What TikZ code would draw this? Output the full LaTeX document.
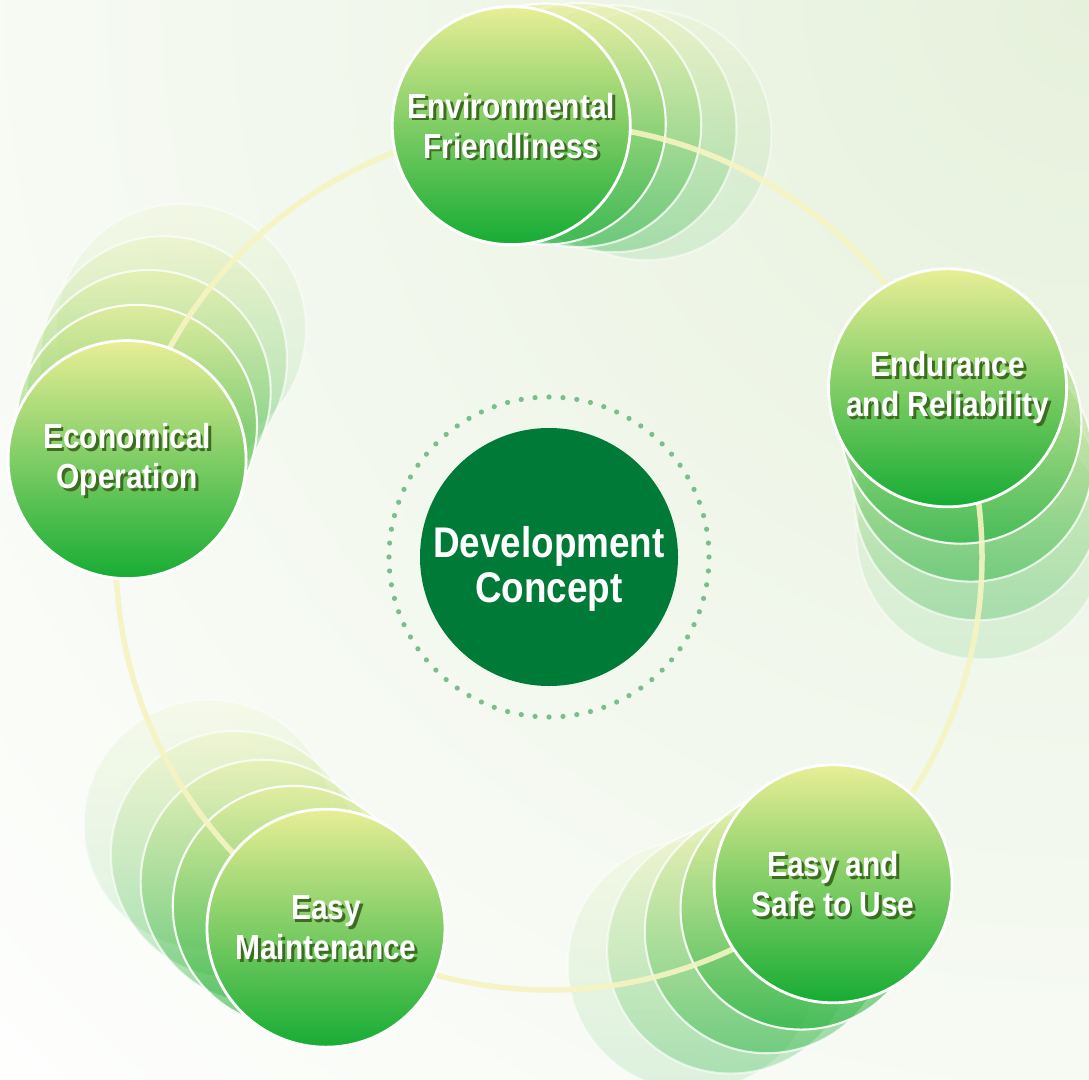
\documentclass[tikz,border=0pt]{standalone}
\usepackage{fontspec}
\newfontfamily\capfont{Liberation Sans}[FakeStretch=0.86]
\usetikzlibrary{positioning}

\definecolor{bgtop}{RGB}{230,241,220}
\definecolor{bubtop}{RGB}{232,238,150}
\definecolor{bubmid}{RGB}{140,204,88}
\definecolor{bubbot}{RGB}{22,172,52}
\definecolor{shadowgreen}{RGB}{62,108,34}
\definecolor{hubgreen}{RGB}{0,122,55}
\definecolor{dotgreen}{RGB}{122,190,140}
\definecolor{ringyellow}{RGB}{246,244,194}

\tikzset{
    bubble/.style={circle, minimum size=2.38cm, inner sep=0pt, draw=white, line width=0.8pt,
        top color=bubtop, middle color=bubmid, bottom color=bubbot},
    ghost/.style={bubble, line width=0.6pt},
    bubtext/.style={text=white, align=center, font=\capfont\bfseries\fontsize{9.9}{11.4}\selectfont},
    bubshadow/.style={bubtext, text=shadowgreen},
    hubcircle/.style={circle, minimum size=2.58cm, inner sep=0pt, fill=hubgreen},
    hubtext/.style={text=white, align=center, font=\capfont\bfseries\fontsize{12.2}{13}\selectfont},
}

\begin{document}
\begin{tikzpicture}
        \useasboundingbox (0,0) rectangle (10.89,10.79);

        % background
        \fill[white] (0,0) rectangle (10.89,10.79);
        \begin{scope}
            \clip (0,0) rectangle (10.89,10.79);
            \shade[inner color=bgtop, outer color=white] (10.89,10.79) circle [radius=16];
        \end{scope}

        \coordinate (hub) at (5.49,5.22);

        % dotted ring
        \foreach \a in {0,5,...,355} {
            \fill[dotgreen] ([shift={(\a:1.6)}]hub) circle [radius=0.026];
        }

        % concept
        \node[hubcircle] (hub_node) at (hub) {};
        \node[hubtext] (hub_label) at ([yshift=-0.12cm]hub_node.center) {Development\\Concept};

        % ghost trail
        \foreach \ang/\step/\name in {95/4.5/env,23/5/end,167/4.7/eco,239/5.2/mnt,311/5.4/use} {
            \foreach \k/\op in {4/0.12,3/0.26,2/0.4,1/0.56} {
                \pgfmathsetmacro\ga{\ang-\k*\step}
                \pgfmathsetmacro\gs{2.38+\k*0.03}
                \pgfmathsetmacro\gd{min(1,\op+0.35)}
                \node[ghost, minimum size=\gs cm, fill opacity=\op, draw opacity=\gd]
                    (ghost_\name_\k) at ([shift={(\ga:4.33)}]hub) {};
            }
        }

        % orbit
        \draw[ringyellow, line width=0.55mm, opacity=0.9] (hub) circle [radius=4.33];

        % bubbles
        \foreach \ang/\name/\txt in {95/env/{Environmental\\Friendliness},
                23/end/{Endurance\\and Reliability},
                167/eco/{Economical\\Operation},
                239/mnt/{Easy\\Maintenance},
                311/use/{Easy and\\Safe to Use}} {
            \node[bubble] (bub_\name) at ([shift={(\ang:4.33)}]hub) {};
            \node[bubshadow] (shadow_\name) at ([xshift=0.028cm, yshift=-0.028cm]bub_\name.center) {\txt};
            \node[bubtext] (label_\name) at (bub_\name.center) {\txt};
        }
    \end{tikzpicture}
\end{document}
